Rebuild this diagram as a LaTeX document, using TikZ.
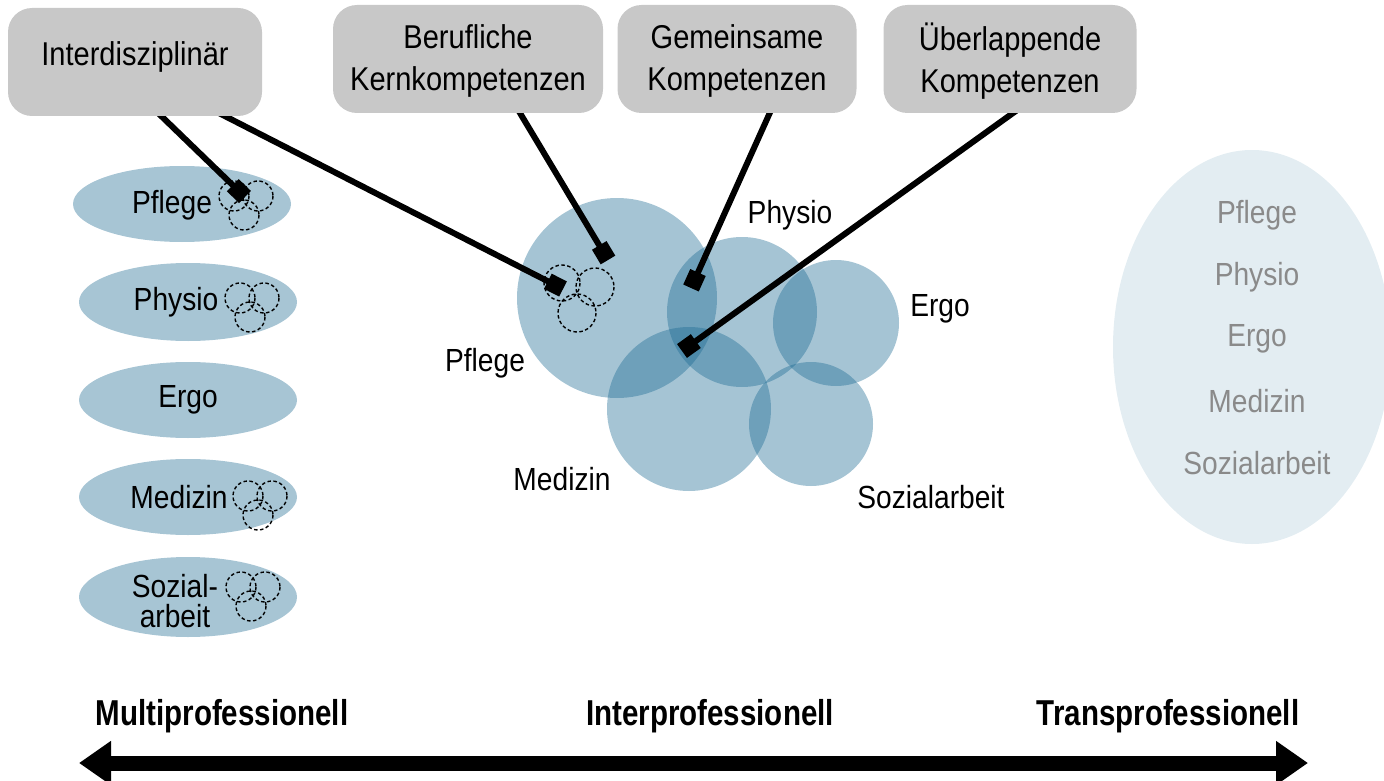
\documentclass[tikz,border=0pt]{standalone}
\usepackage{fontspec}
\setmainfont[FakeStretch=0.88]{Liberation Sans}
\newfontfamily\boldcond[FakeStretch=0.82]{Liberation Sans Bold}
\usetikzlibrary{arrows.meta}
\definecolor{boxgray}{RGB}{200,200,200}
\definecolor{ellblue}{RGB}{167,197,212}
\definecolor{circblue}{RGB}{24,104,145}
\definecolor{paleblue}{RGB}{227,237,242}
\definecolor{txtgray}{RGB}{138,138,138}
\begin{document}
\begin{tikzpicture}[x=1pt,y=-1pt,
  box/.style={fill=boxgray, rounded corners=24pt, inner sep=0pt, minimum height=108pt},
  boxtxt/.style={inner sep=0pt, align=center, font=\fontsize{33}{42}\selectfont},
  lbl/.style={font=\fontsize{32}{33}\selectfont, inner sep=0pt, align=center},
  graylbl/.style={lbl, text=txtgray},
  botlbl/.style={font=\boldcond\fontsize{36}{37}\selectfont, inner sep=0pt},
  conn/.style={line width=6pt, -{Square[length=17pt,width=17pt]}},
  overlap/.style={fill=circblue, fill opacity=0.39},
  dcirc/.style={line width=1.4pt, dash pattern=on 3.5pt off 2.5pt},
  trio/.pic={
    \draw[dcirc] (-12,-7) circle[radius=15];
    \draw[dcirc] (12,-7) circle[radius=15];
    \draw[dcirc] (-2,12) circle[radius=15];
  }
]
\useasboundingbox (0,0) rectangle (1384,781);

% --- right pale ellipse (transprofessionell)
\fill[paleblue] (1252,347) ellipse[x radius=139, y radius=197];
\node[graylbl] (tp1) at (1257,215) {Pflege};
\node[graylbl] (tp2) at (1257,277) {Physio};
\node[graylbl] (tp3) at (1257,339) {Ergo};
\node[graylbl] (tp4) at (1257,401) {Medizin};
\node[graylbl] (tp5) at (1257,463) {Sozialarbeit};

% --- left ellipses (multiprofessionell)
\fill[ellblue] (182,204) ellipse[x radius=109, y radius=38];
\fill[ellblue] (188,302) ellipse[x radius=109, y radius=39];
\fill[ellblue] (188,400) ellipse[x radius=109, y radius=38];
\fill[ellblue] (188,497) ellipse[x radius=109, y radius=38];
\fill[ellblue] (188,597) ellipse[x radius=109, y radius=40];
\node[lbl] (lp1) at (172,205) {Pflege};
\node[lbl] (lp2) at (176,302) {Physio};
\node[lbl] (lp3) at (188,400) {Ergo};
\node[lbl] (lp4) at (179,497) {Medizin};
\node[lbl] (lp5) at (175,601) {Sozial-\\[-3pt]arbeit};
\pic at (246,203) {trio};
\pic at (252,305) {trio};
\pic at (260,503) {trio};
\pic at (253,594) {trio};

% --- central cluster (interprofessionell)
\fill[overlap] (617,298) circle[radius=100];
\fill[overlap] (742,312) circle[radius=75];
\fill[overlap] (836,323) circle[radius=63];
\fill[overlap] (689,409) circle[radius=82];
\fill[overlap] (811,424) circle[radius=62];
\draw[dcirc] (562,283) circle[radius=18];
\draw[dcirc] (595,287) circle[radius=19];
\draw[dcirc] (577,313) circle[radius=19];
\node[lbl] (cph) at (790,215) {Physio};
\node[lbl] (cer) at (940,309) {Ergo};
\node[lbl] (cpf) at (485,363) {Pflege};
\node[lbl] (cme) at (562,479) {Medizin};
\node[lbl] (cso) at (931,497) {Sozialarbeit};

% --- connectors
\coordinate (s1a) at (155,110);
\coordinate (s1b) at (213,110);
\coordinate (s2) at (517,108);
\coordinate (s3) at (772,108);
\coordinate (s4) at (1020,108);
\coordinate (m1) at (245,197);
\coordinate (m2) at (563,289);
\coordinate (m3) at (608,260);
\coordinate (m4) at (691,288);
\coordinate (m5) at (682,351);
\draw[conn] (s1a) -- (m1);
\draw[conn] (s1b) -- (m2);
\draw[conn] (s2) -- (m3);
\draw[conn] (s3) -- (m4);
\draw[conn] (s4) -- (m5);

% --- boxes
\node[box, minimum width=254pt] (b1) at (135,62) {};
\node[box, minimum width=270pt] (b2) at (468,59) {};
\node[box, minimum width=239pt] (b3) at (737,59) {};
\node[box, minimum width=253pt] (b4) at (1010,59) {};
\node[boxtxt] (b1t) at ([yshift=5pt]b1.center) {Interdisziplinär};
\node[boxtxt] (b2t) at ([yshift=-2pt]b2.center) {Berufliche\\Kernkompetenzen};
\node[boxtxt] (b3t) at ([yshift=-2pt]b3.center) {Gemeinsame\\Kompetenzen};
\node[boxtxt] (b4t) at ([yshift=-2pt]b4.center) {Überlappende\\Kompetenzen};

% --- bottom axis
\node[botlbl] (x1) at (222,716) {Multiprofessionell};
\node[botlbl] (x2) at (710,716) {Interprofessionell};
\node[botlbl] (x3) at (1168,716) {Transprofessionell};
\coordinate (aL) at (79,763);
\coordinate (aR) at (1308,763);
\draw[line width=15pt, {Triangle[length=32pt,width=42pt]}-{Triangle[length=32pt,width=42pt]}] (aL) -- (aR);
\end{tikzpicture}
\end{document}
